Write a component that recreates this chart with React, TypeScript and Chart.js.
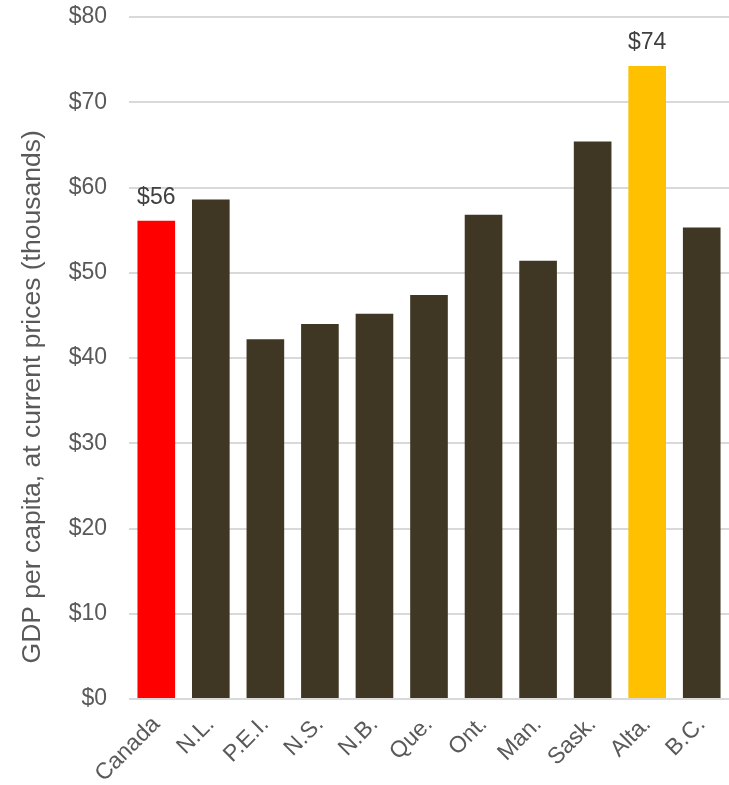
import React, { useEffect, useRef } from "react";
import { Chart, registerables } from "chart.js";

Chart.register(...registerables);

const categories = ["Canada", "N.L.", "P.E.I.", "N.S.", "N.B.", "Que.", "Ont.", "Man.", "Sask.", "Alta.", "B.C."];
const gdpValues = [56.1, 58.6, 42.2, 44.0, 45.2, 47.4, 56.8, 51.4, 65.4, 74.25, 55.3];
const barColors = ["#FF0000", "#3F3624", "#3F3624", "#3F3624", "#3F3624", "#3F3624", "#3F3624", "#3F3624", "#3F3624", "#FFC000", "#3F3624"];
const labelledBars = ["Canada", "Alta."];
const yAxisTitle = "GDP per capita, at current prices (thousands)";
const yMin = 0;
const yMax = 80;
const yStep = 10;

const FONT = "'Liberation Sans', Arial, sans-serif";
const TICK_COLOR = "#595959";

const extrasPlugin = {
  id: "extras",
  afterDatasetsDraw(chart: any) {
    const ctx = chart.ctx;
    const meta = chart.getDatasetMeta(0);
    ctx.save();
    ctx.font = `23px ${FONT}`;
    ctx.fillStyle = "#404040";
    ctx.textAlign = "center";
    ctx.textBaseline = "alphabetic";
    meta.data.forEach((bar: any, i: number) => {
      if (labelledBars.includes(categories[i])) {
        ctx.fillText("$" + Math.round(gdpValues[i]), bar.x, bar.y - 17);
      }
    });
    // y axis title
    const area = chart.chartArea;
    ctx.translate(33, area.top + (area.bottom - area.top) * 0.557);
    ctx.rotate(-Math.PI / 2);
    ctx.font = `26.5px ${FONT}`;
    ctx.fillStyle = TICK_COLOR;
    ctx.textAlign = "center";
    ctx.textBaseline = "middle";
    ctx.fillText(yAxisTitle, 0, 0);
    ctx.restore();
  },
};

export default function App() {
  const canvasRef = useRef<HTMLCanvasElement | null>(null);

  useEffect(() => {
    if (!canvasRef.current) return;
    const chart = new Chart(canvasRef.current, {
      type: "bar",
      data: {
        labels: categories,
        datasets: [
          {
            data: gdpValues,
            backgroundColor: barColors,
            borderWidth: 0,
            barPercentage: 0.69,
            categoryPercentage: 1,
          },
        ],
      },
      options: {
        animation: false,
        responsive: true,
        maintainAspectRatio: false,
        layout: { padding: { top: 17, right: 0, left: 0, bottom: 0 } },
        plugins: {
          legend: { display: false },
          tooltip: { enabled: false },
          title: { display: false },
        },
        scales: {
          x: {
            grid: { display: false, drawTicks: false },
            border: { display: false },
            ticks: {
              color: TICK_COLOR,
              font: { family: FONT, size: 23 },
              minRotation: 45,
              maxRotation: 45,
              padding: 12,
            },
            afterFit(scale: any) {
              scale.height = 86;
              scale.paddingLeft = 0;
              scale.paddingRight = 0;
            },
          },
          y: {
            min: yMin,
            max: yMax,
            grid: { color: "#D9D9D9", lineWidth: 2, drawTicks: false },
            border: { display: false },
            ticks: {
              stepSize: yStep,
              color: TICK_COLOR,
              font: { family: FONT, size: 23 },
              padding: 22,
              callback: (v: any) => "$" + v,
            },
            afterFit(scale: any) {
              scale.width = 129;
              scale.paddingTop = 0;
              scale.paddingBottom = 0;
            },
          },
        },
      },
      plugins: [extrasPlugin],
    });
    return () => chart.destroy();
  }, []);

  return (
    <div style={{ position: "absolute", left: 0, top: 0, width: 729, height: 785, background: "#fff" }}>
      <canvas ref={canvasRef} />
    </div>
  );
}
